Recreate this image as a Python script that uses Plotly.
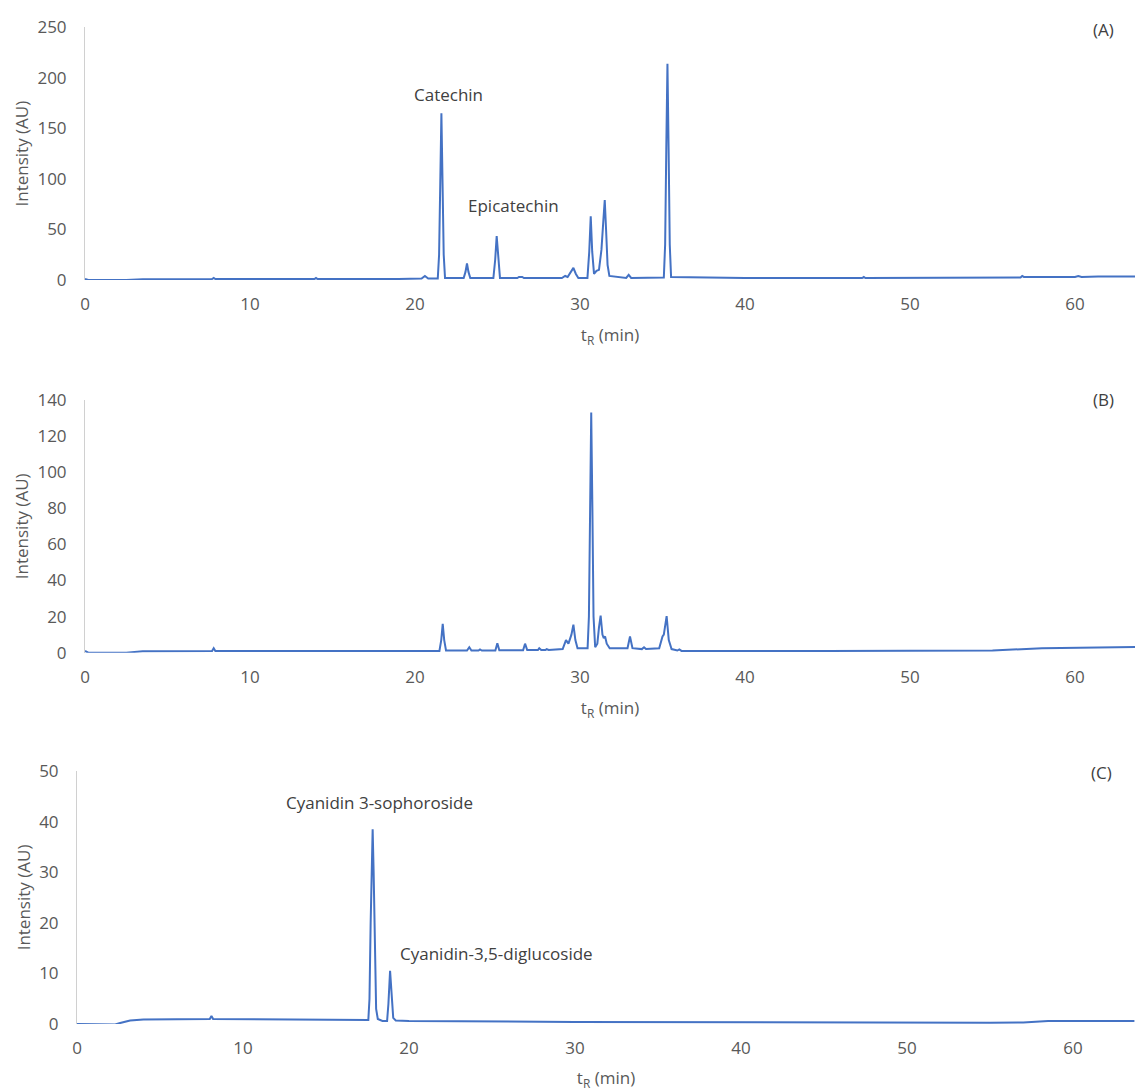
import plotly.graph_objects as go

# ---------------- data ----------------
# Panel A chromatogram: retention time (min) and intensity (AU)
time_A = [0, 0.2, 2.5, 3.5, 7.7, 7.8, 7.9, 13.9, 14.0, 14.1, 19.0,
          20.4, 20.6, 20.8,
          21.38, 21.46, 21.53, 21.6, 21.67, 21.74, 21.82,
          22.95, 23.06, 23.15, 23.24, 23.35,
          24.75, 24.86, 24.95, 25.04, 25.15,
          26.2, 26.3, 26.5, 26.6,
          28.9, 29.1, 29.25, 29.45, 29.6, 29.75, 29.9,
          30.45, 30.56, 30.65, 30.74, 30.85,
          31.0, 31.15, 31.3, 31.42, 31.5, 31.58, 31.67, 31.78,
          32.8, 32.95, 33.1,
          35.08, 35.16, 35.23, 35.3, 35.37, 35.44, 35.52,
          40.0, 47.1, 47.2, 47.3, 55.0, 56.7, 56.8, 56.9,
          60.0, 60.2, 60.4, 61.0, 61.2, 61.4, 63.7]
int_A = [1, 0, 0, 0.8, 1, 2, 1, 1, 2, 1, 1,
         1.5, 4, 1.5,
         1.5, 25, 95, 165, 95, 25, 2,
         2, 8, 16.5, 8, 2,
         2, 20, 43.5, 20, 2,
         2, 3, 3, 2,
         2, 4, 3, 8, 12, 6, 2,
         2, 28, 63, 28, 6,
         9, 10, 30, 60, 79, 50, 15, 4,
         2, 5, 2,
         2.5, 35, 130, 214, 130, 35, 3,
         2, 2, 3, 2, 2.5, 2.5, 4, 3,
         3, 4, 3, 3.5, 4, 3.5, 3.5]

# Panel B chromatogram
time_B = [0, 0.2, 2.5, 3.5, 7.7, 7.8, 7.9, 18.0,
          21.48, 21.59, 21.68, 21.77, 21.88,
          23.15, 23.29, 23.42, 23.85, 23.94, 24.05,
          24.87, 24.99, 25.11, 26.55, 26.67, 26.8,
          27.45, 27.53, 27.65, 27.9, 27.98, 28.1,
          28.95, 29.15, 29.3, 29.48, 29.6, 29.72, 29.85,
          30.46, 30.54, 30.61, 30.68, 30.75, 30.82, 30.92,
          31.05, 31.15, 31.25, 31.36, 31.44, 31.52, 31.62, 31.8,
          32.88, 33.03, 33.18, 33.75, 33.88, 34.0,
          34.8, 35.0, 35.08, 35.25, 35.38, 35.55,
          35.9, 36.02, 36.15, 45.0, 55.0, 58.0, 63.7]
int_B = [1, 0, 0, 0.8, 1, 2.5, 1, 1,
         1, 7, 16, 7, 1.2,
         1.2, 3, 1.2, 1.2, 1.8, 1.2,
         1.2, 5.2, 1.3, 1.3, 5, 1.5,
         1.5, 2.5, 1.5, 1.5, 2, 1.5,
         2, 7, 5, 10, 15.5, 7, 2.5,
         2.5, 20, 80, 133, 80, 20, 3,
         5, 14, 20.5, 10, 8, 9, 5, 2.5,
         2.5, 9, 2.5, 2, 3, 2,
         2.5, 9, 10, 20.3, 7, 2,
         1.2, 1.8, 1, 1, 1.2, 2.5, 3.2]

# Panel C chromatogram
time_C = [0, 2.3, 2.6, 3.2, 4.0, 8.0, 8.1, 8.2, 17.55,
          17.62, 17.69, 17.75, 17.81, 17.87, 17.94, 18.02, 18.12, 18.4,
          18.68, 18.76, 18.86, 18.95, 19.05, 19.2, 20.0,
          30.0, 40.0, 55.0, 57.0, 58.5, 63.7]
int_C = [0, -0.1, 0.2, 0.7, 0.9, 1.0, 1.6, 1.0, 0.8,
         5, 20, 34, 38.5, 30, 12, 3, 1, 0.6,
         0.6, 4, 10.5, 5, 1.2, 0.7, 0.6,
         0.4, 0.3, 0.25, 0.3, 0.6, 0.6]

# Axis tick values
x_ticks = [0, 10, 20, 30, 40, 50, 60]
y_ticks_A = [0, 50, 100, 150, 200, 250]
y_ticks_B = [0, 20, 40, 60, 80, 100, 120, 140]
y_ticks_C = [0, 10, 20, 30, 40, 50]

# Peak labels: (text, time, intensity)
labels_A = [("Catechin", 22.06, 184), ("Epicatechin", 25.98, 73.4), ("(A)", 61.7, 248)]
labels_B = [("Rutin", 30.8, 146.5), ("(B)", 61.7, 140)]
labels_C = [("Cyanidin 3-sophoroside", 18.2, 43.7),
            ("Cyanidin-3,5-diglucoside", 25.3, 14.0), ("(C)", 61.7, 49.8)]

# ---------------- figure ----------------
W, H = 1135, 1091
LINE = "#4472C4"
TICK = "#595959"
FONT = "Open Sans"
FS = 17

fig = go.Figure()
for i, (t, v) in enumerate([(time_A, int_A), (time_B, int_B), (time_C, int_C)], start=1):
    fig.add_trace(go.Scatter(
        x=t, y=v, mode="lines",
        line=dict(color=LINE, width=2),
        xaxis="x" if i == 1 else f"x{i}",
        yaxis="y" if i == 1 else f"y{i}",
        showlegend=False, hoverinfo="skip"))

def xax(left_px, range_end, anchor):
    return dict(domain=[left_px / W, 1], range=[0, range_end], anchor=anchor,
                tickvals=x_ticks, ticks="", showgrid=False, zeroline=False,
                showline=False, automargin=False, ticklabelstandoff=12,
                tickfont=dict(family=FONT, size=FS, color=TICK),
                title=dict(text="t<sub>R</sub> (min)", standoff=15,
                           font=dict(family=FONT, size=FS, color=TICK)))

def yax(top_px, bottom_px, rng, ticks, anchor):
    return dict(domain=[1 - bottom_px / H, 1 - top_px / H], range=rng, anchor=anchor,
                tickvals=ticks, ticks="", showgrid=False, zeroline=False,
                showline=True, linecolor="#d0d0d0", linewidth=1,
                automargin=False, ticklabelstandoff=14,
                tickfont=dict(family=FONT, size=FS, color=TICK),
                title=dict(text="Intensity (AU)", standoff=4,
                           font=dict(family=FONT, size=FS, color=TICK)))

fig.update_layout(
    width=W, height=H,
    margin=dict(l=0, r=0, t=0, b=0),
    paper_bgcolor="white", plot_bgcolor="white",
    xaxis=xax(85, (W - 85) / 16.5, "y"),
    yaxis=yax(27.3, 280, [0, 250], y_ticks_A, "x"),
    xaxis2=xax(85, (W - 85) / 16.5, "y2"),
    yaxis2=yax(400, 652.7, [0, 140], y_ticks_B, "x2"),
    xaxis3=xax(77, (W - 77) / 16.6, "y3"),
    yaxis3=yax(771, 1024, [0, 50], y_ticks_C, "x3"),
)

annots = []
for labels, xr, yr in [(labels_A, "x", "y"), (labels_B, "x2", "y2"), (labels_C, "x3", "y3")]:
    for txt, tx, ty in labels:
        annots.append(dict(text=txt, x=tx, y=ty, xref=xr, yref=yr, showarrow=False,
                           xanchor="center", yanchor="middle",
                           font=dict(family=FONT, size=FS, color="#404040")))
fig.update_layout(annotations=annots)

fig.write_html("out.html",
               config={"displayModeBar": False},
               post_script="document.body.style.margin='0';document.body.style.overflow='hidden';")
